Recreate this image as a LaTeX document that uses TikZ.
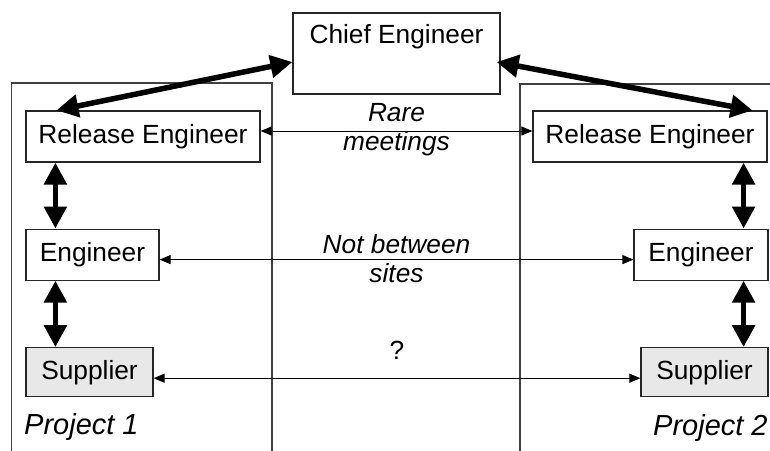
\documentclass[tikz,border=0pt]{standalone}
\usepackage{fontspec}
\setmainfont{Liberation Sans}
\usetikzlibrary{arrows.meta}
\begin{document}
\begin{tikzpicture}[x=1pt,y=-1pt,
  box/.style={draw=black!85, line width=1.2pt, inner sep=0pt, minimum height=51pt,
    font=\fontsize{26.3}{31}\selectfont},
  supbox/.style={box, fill=black!9, minimum height=49pt},
  lbl/.style={font=\fontsize{26.3}{28.5}\selectfont\itshape, align=center, inner sep=0pt},
  projlbl/.style={font=\fontsize{29}{34}\selectfont\itshape, inner sep=0pt, anchor=base west},
  thick/.style={line width=5.5pt, {Triangle[length=22pt,width=22pt]}-{Triangle[length=22pt,width=22pt]}},
  thin/.style={line width=1pt, {Triangle[length=11pt,width=9pt]}-{Triangle[length=11pt,width=9pt]}},
  frame/.style={draw=black!75, line width=1.2pt}
]
\useasboundingbox (0,0) rectangle (770,450);

% project frames
\draw[frame] (11.5,452) -- (11.5,83) -- (272,83) -- (272,452);
\draw[frame] (520,452) -- (520,84) -- (772,84);

% nodes
\node[box, minimum width=207pt, text height=30pt, text depth=51pt, minimum height=0pt] (chief) at (396.5,53.5) {Chief Engineer};
\node[box, minimum width=234pt] (relL) at (143,136.5) {Release Engineer};
\node[box, minimum width=234pt] (relR) at (650,136.5) {Release Engineer};
\node[box, minimum width=133pt] (engL) at (92.5,254.6) {Engineer};
\node[box, minimum width=134pt] (engR) at (701,254.6) {Engineer};
\node[supbox, minimum width=127pt] (supL) at (89.5,372.2) {Supplier};
\node[supbox, minimum width=127pt] (supR) at (704.5,372.2) {Supplier};

\node[projlbl] (p1) at (24,434) {Project 1};
\node[projlbl] (p2) at (653,435) {Project 2};

% thick arrows
\draw[thick] ([yshift=-8.5pt]chief.west) -- ([xshift=31pt]relL.north west);
\draw[thick] ([xshift=-4pt,yshift=-8.5pt]chief.east) -- ([xshift=-15pt]relR.north east);
\draw[thick] ([xshift=30pt]relL.south west) -- ([xshift=30pt]engL.north west);
\draw[thick] ([xshift=30pt]engL.south west) -- ([xshift=30pt]supL.north west);
\draw[thick] ([xshift=-24pt]relR.south east) -- ([xshift=-25pt]engR.north east);
\draw[thick] ([xshift=-25pt]engR.south east) -- ([xshift=-25pt]supR.north east);

% thin arrows
\draw[thin] ([yshift=5.5pt]relL.east) -- ([yshift=5.5pt]relR.west)
  node[lbl, midway, yshift=1.5pt] (rare) {Rare\\meetings};
\draw[thin] ([yshift=-5pt]engL.east) -- ([yshift=-5pt]engR.west)
  node[lbl, midway, yshift=1pt] (notb) {Not between\\sites};
\draw[thin] ([yshift=-6pt]supL.east) -- ([yshift=-6pt]supR.west)
  node[midway, yshift=27.5pt, inner sep=0pt, font=\fontsize{26.3}{31}\selectfont] (q) {?};
\end{tikzpicture}
\end{document}
